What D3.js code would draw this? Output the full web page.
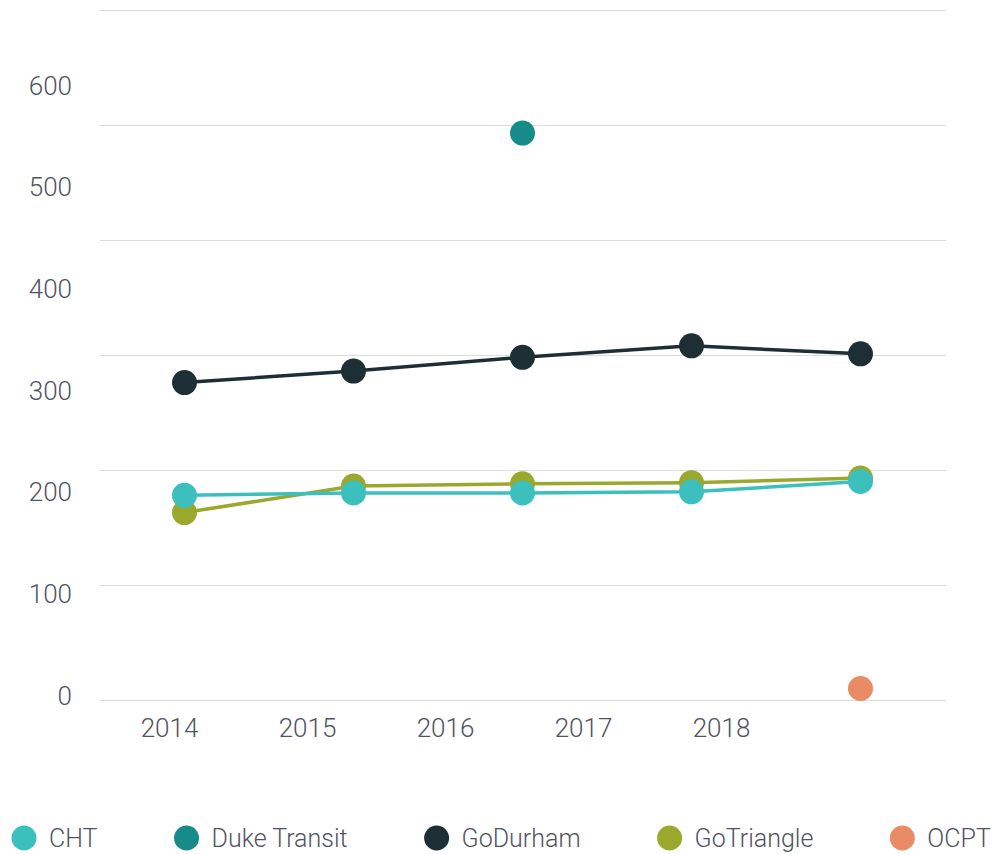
<!DOCTYPE html>
<html>
<head>
<meta charset="utf-8">
<script src="https://cdn.jsdelivr.net/npm/d3@7"></script>
<style>
  html, body { margin: 0; padding: 0; background: #fff; }
  svg { display: block; }
  text { font-family: Roboto, "Open Sans", sans-serif; font-weight: 300; fill: #50545f; }
</style>
</head>
<body>
<svg id="chart" width="997" height="854"></svg>
<script>
// Years on the horizontal axis
const years = ["2014", "2015", "2016", "2017", "2018"];

// Value-axis tick labels
const yTicks = [0, 100, 200, 300, 400, 500, 600];

// Series names and colours
const seriesNames = ["CHT", "Duke Transit", "GoDurham", "GoTriangle", "OCPT"];
const seriesColors = ["#3bc0bd", "#178a8a", "#1e2e35", "#9aa82d", "#e98b64"];

// Values per series (null = no observation for that year)
const chtValues        = [178, 180, 180, 181, 190];
const dukeValues       = [null, null, 493, null, null];
const goDurhamValues   = [276, 286, 298, 308, 301];
const goTriangleValues = [163, 186, 188, 189, 193];
const ocptValues       = [null, null, null, null, 10];

const seriesValues = [chtValues, dukeValues, goDurhamValues, goTriangleValues, ocptValues];

const series = seriesNames.map((name, i) => ({
  name,
  color: seriesColors[i],
  points: years.map((yr, j) => ({ year: yr, value: seriesValues[i][j] }))
                .filter(d => d.value !== null)
}));

const svg = d3.select("#chart");

// Plot scales
const x = d3.scalePoint().domain(years).range([100, 945]).padding(0.5);
const y = d3.scaleLinear().domain([0, 600]).range([700, 10]);

// Axis label scales
const xLabel = d3.scalePoint().domain(years).range([100, 790]).padding(0.5);
const yLabel = d3.scaleLinear().domain([0, 600]).range([696, 86]);

// Horizontal gridlines
svg.append("g").attr("class", "grid")
  .selectAll("line").data(yTicks).join("line")
  .attr("x1", 100).attr("x2", 946)
  .attr("y1", d => Math.round(y(d)) + 0.5)
  .attr("y2", d => Math.round(y(d)) + 0.5)
  .attr("stroke", "#dcdcdc").attr("stroke-width", 1);

// Value axis labels
const yAxis = d3.axisLeft(yLabel).tickValues(yTicks).tickSize(0).tickPadding(0);
const gy = svg.append("g").attr("transform", "translate(72,0)").call(yAxis);
gy.select(".domain").remove();
gy.selectAll("text").attr("font-size", 26).attr("text-anchor", "end")
  .attr("font-family", "Roboto, sans-serif").attr("fill", "#50545f");

// Year axis labels
const xAxis = d3.axisBottom(xLabel).tickSize(0).tickPadding(0);
const gx = svg.append("g").attr("transform", "translate(0,719)").call(xAxis);
gx.select(".domain").remove();
gx.selectAll("text").attr("font-size", 26).attr("dy", "0.71em")
  .attr("font-family", "Roboto, sans-serif").attr("fill", "#50545f");

// Lines and dots, drawn so that the first series ends up on top
const line = d3.line().x(d => x(d.year)).y(d => y(d.value));
const seriesG = svg.append("g").selectAll("g")
  .data(series.slice().reverse()).join("g");

seriesG.filter(d => d.points.length > 1).append("path")
  .attr("d", d => line(d.points))
  .attr("fill", "none")
  .attr("stroke", d => d.color)
  .attr("stroke-width", 3.5);

seriesG.selectAll("circle")
  .data(d => d.points.map(p => ({ ...p, color: d.color })))
  .join("circle")
  .attr("cx", d => x(d.year))
  .attr("cy", d => y(d.value))
  .attr("r", 12.5)
  .attr("fill", d => d.color);

// Legend along the bottom
const legend = svg.append("g").attr("transform", "translate(0,838)");
let cursor = 12;
series.forEach(s => {
  const item = legend.append("g").attr("transform", `translate(${cursor},0)`);
  item.append("circle").attr("cx", 12).attr("cy", 0).attr("r", 12.5).attr("fill", s.color);
  const t = item.append("text").attr("x", 37).attr("y", 0).attr("dy", "0.35em")
    .attr("font-size", 25).text(s.name);
  const w = t.node().getComputedTextLength();
  cursor += 37 + w + 77;
});
</script>
</body>
</html>
